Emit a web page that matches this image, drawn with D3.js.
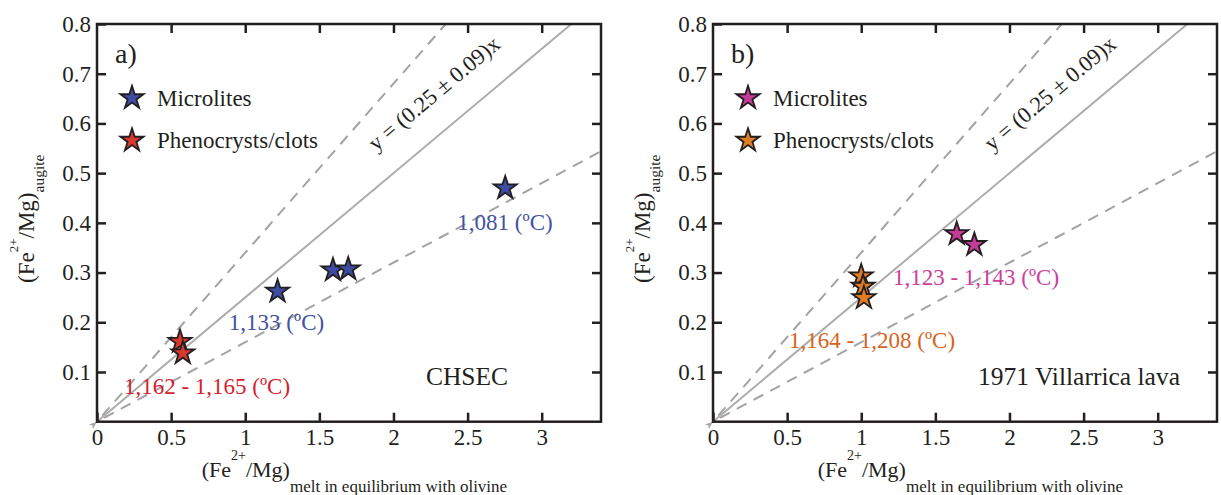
<!DOCTYPE html>
<html>
<head>
<meta charset="utf-8">
<script src="https://cdn.jsdelivr.net/npm/d3@7"></script>
<style>
  body { margin: 0; background: #fff; }
  svg { display: block; }
  text { font-family: "Liberation Serif", "Times New Roman", serif; }
</style>
</head>
<body>
<svg id="chart" width="1221" height="495"></svg>
<script>
// axis ticks
xTicks = [0, 0.5, 1, 1.5, 2, 2.5, 3];
yTicks = [0.1, 0.2, 0.3, 0.4, 0.5, 0.6, 0.7, 0.8];
xMax = 3.4;
yMax = 0.8;

// Kd fit: y = (0.25 +- 0.09) x
slopeMean = 0.25;
slopeErr = 0.09;

// panel a) CHSEC
chsecMicroX = [2.754, 1.218, 1.592, 1.695];
chsecMicroY = [0.470, 0.262, 0.305, 0.307];
chsecPhenoX = [0.560, 0.579];
chsecPhenoY = [0.161, 0.138];

// panel b) 1971 Villarrica lava
vlMicroX = [1.644, 1.763];
vlMicroY = [0.378, 0.356];
vlPhenoX = [1.000, 1.012, 1.018];
vlPhenoY = [0.293, 0.272, 0.249];

legendNames = ['Microlites', 'Phenocrysts/clots'];

svg = d3.select('#chart');
font = '"Liberation Serif", "Times New Roman", serif';
frameColor = '#231f20';

svg.append('defs').append('marker')
	.attr('id', 'arrow')
	.attr('markerWidth', 8)
	.attr('markerHeight', 8)
	.attr('refX', 0)
	.attr('refY', 3)
	.attr('orient', 'auto-start-reverse')
	.attr('markerUnits', 'userSpaceOnUse')
	.append('path')
	.attr('d', 'M0,3 L8,0 L6,3 L8,6 Z')
	.attr('fill', '#a6a6a6');

function drawPanel(p){
	let x = d3.scaleLinear().domain([0, xMax]).range([p.left, p.left + 504]);
	let y = d3.scaleLinear().domain([0, yMax]).range([421.7, 24]);
	let g = svg.append('g');

	// ref lines through origin
	let lines = [
		{k: slopeMean + slopeErr, dash: '11,8', color: '#a3a3a3'},
		{k: slopeMean - slopeErr, dash: '11,8', color: '#a3a3a3'},
		{k: slopeMean, dash: null, color: '#adadad'}
	];
	lines.forEach(function(l){
		let xe = Math.min(xMax, yMax / l.k);
		let ln = g.append('line')
			.attr('x1', x(0)).attr('y1', y(0))
			.attr('x2', x(xe)).attr('y2', y(l.k * xe))
			.attr('stroke', l.color)
			.attr('stroke-width', 2);
		if(l.dash) ln.attr('stroke-dasharray', l.dash).attr('stroke-dashoffset', -8);
		else ln.attr('marker-start', 'url(#arrow)');
	});

	// equation along the fit line
	let ang = Math.atan2(y(0) - y(slopeMean), x(1) - x(0)) * 180 / Math.PI;
	g.append('text')
		.attr('transform', `translate(${x(2.306)},${y(0.649)}) rotate(${-ang})`)
		.attr('text-anchor', 'middle')
		.attr('font-size', 22.5)
		.attr('fill', '#231f20')
		.text('y = (0.25 ± 0.09)x');

	// axes, ticks pointing inward
	let bottom = d3.axisBottom(x).tickValues(xTicks).tickSize(-9).tickPadding(7)
		.tickFormat(d3.format('~g'));
	let left = d3.axisLeft(y).tickValues(yTicks).tickSize(-9).tickPadding(6)
		.tickFormat(d3.format('.1f'));
	let top = d3.axisTop(x).tickValues(xTicks.slice(1)).tickSize(-9).tickFormat('');
	let right = d3.axisRight(y).tickValues(yTicks.slice(0, -1)).tickSize(-9).tickFormat('');

	[[bottom, `translate(0,${y(0)})`], [left, `translate(${x(0)},0)`],
	 [top, `translate(0,${y(yMax)})`], [right, `translate(${x(xMax)},0)`]].forEach(function(a){
		let ax = g.append('g').attr('transform', a[1]).call(a[0]);
		ax.select('.domain').remove();
		ax.selectAll('line').attr('stroke', frameColor).attr('stroke-width', 2.5);
		ax.selectAll('text').attr('font-family', font).attr('font-size', 23).attr('fill', frameColor);
	});

	g.append('rect')
		.attr('x', x(0)).attr('y', y(yMax))
		.attr('width', x(xMax) - x(0)).attr('height', y(0) - y(yMax))
		.attr('fill', 'none')
		.attr('stroke', frameColor)
		.attr('stroke-width', 2.5);

	// axis titles
	let xt = g.append('text')
		.attr('x', p.left + 104.7).attr('y', 476.7)
		.attr('font-size', 22).attr('fill', frameColor);
	xt.append('tspan').text('(Fe');
	xt.append('tspan').attr('font-size', 14).attr('dy', -16.5).text('2+');
	xt.append('tspan').attr('dy', 16.5).text('/Mg)');
	xt.append('tspan').attr('font-size', 17).attr('dy', 15).text('melt in equilibrium with olivine');

	let yt = g.append('text')
		.attr('transform', `translate(${p.left - 63},283) rotate(-90)`)
		.attr('font-size', 23).attr('fill', frameColor);
	yt.append('tspan').text('(Fe');
	yt.append('tspan').attr('font-size', 13).attr('dy', -16).text('2+');
	yt.append('tspan').attr('dy', 16).text('/Mg)');
	yt.append('tspan').attr('font-size', 15.5).attr('dy', 10).text('augite');

	// panel letter and sample name
	g.append('text')
		.attr('x', p.left + 18).attr('y', 63)
		.attr('font-size', 28).attr('fill', frameColor)
		.text(p.letter);
	g.append('text')
		.attr('x', p.nameX).attr('y', 385)
		.attr('text-anchor', 'middle')
		.attr('font-size', 25.5).attr('fill', frameColor)
		.text(p.name);

	// temperature labels
	p.notes.forEach(function(n){
		g.append('text')
			.attr('x', n.x).attr('y', n.y)
			.attr('text-anchor', 'middle')
			.attr('font-size', 23)
			.attr('fill', n.color)
			.text(n.text);
	});

	let star = d3.symbol().type(d3.symbolStar).size(165);

	// data
	[[p.phenoX, p.phenoY, p.phenoFill], [p.microX, p.microY, p.microFill]].forEach(function(s){
		g.selectAll(null)
			.data(d3.range(s[0].length))
			.join('path')
			.attr('d', star)
			.attr('transform', i => `translate(${x(s[0][i])},${y(s[1][i])})`)
			.attr('fill', s[2])
			.attr('stroke', '#231f20')
			.attr('stroke-width', 1.8)
			.attr('stroke-linejoin', 'miter');
	});

	// legend
	let fills = [p.microFill, p.phenoFill];
	legendNames.forEach(function(name, i){
		g.append('path')
			.attr('d', star)
			.attr('transform', `translate(${p.left + 35},${98 + i * 42.5})`)
			.attr('fill', fills[i])
			.attr('stroke', '#231f20')
			.attr('stroke-width', 1.8);
		g.append('text')
			.attr('x', p.left + 60).attr('y', 105.5 + i * 42)
			.attr('font-size', 23).attr('fill', frameColor)
			.text(name);
	});
}

drawPanel({
	left: 97, letter: 'a)', name: 'CHSEC', nameX: 467,
	microX: chsecMicroX, microY: chsecMicroY, phenoX: chsecPhenoX, phenoY: chsecPhenoY,
	microFill: '#3c4da3', phenoFill: '#d8392f',
	notes: [
		{text: '1,081 (ºC)', x: 505, y: 229.5, color: '#4352a3'},
		{text: '1,133 (ºC)', x: 276.5, y: 330, color: '#4352a3'},
		{text: '1,162 - 1,165 (ºC)', x: 207, y: 393.5, color: '#d51f2e'}
	]
});

drawPanel({
	left: 713, letter: 'b)', name: '1971 Villarrica lava', nameX: 1079,
	microX: vlMicroX, microY: vlMicroY, phenoX: vlPhenoX, phenoY: vlPhenoY,
	microFill: '#c63a98', phenoFill: '#e07c24',
	notes: [
		{text: '1,123 - 1,143 (ºC)', x: 976, y: 285, color: '#cc409c'},
		{text: '1,164 - 1,208 (ºC)', x: 872, y: 347.5, color: '#d8631e'}
	]
});
</script>
</body>
</html>
